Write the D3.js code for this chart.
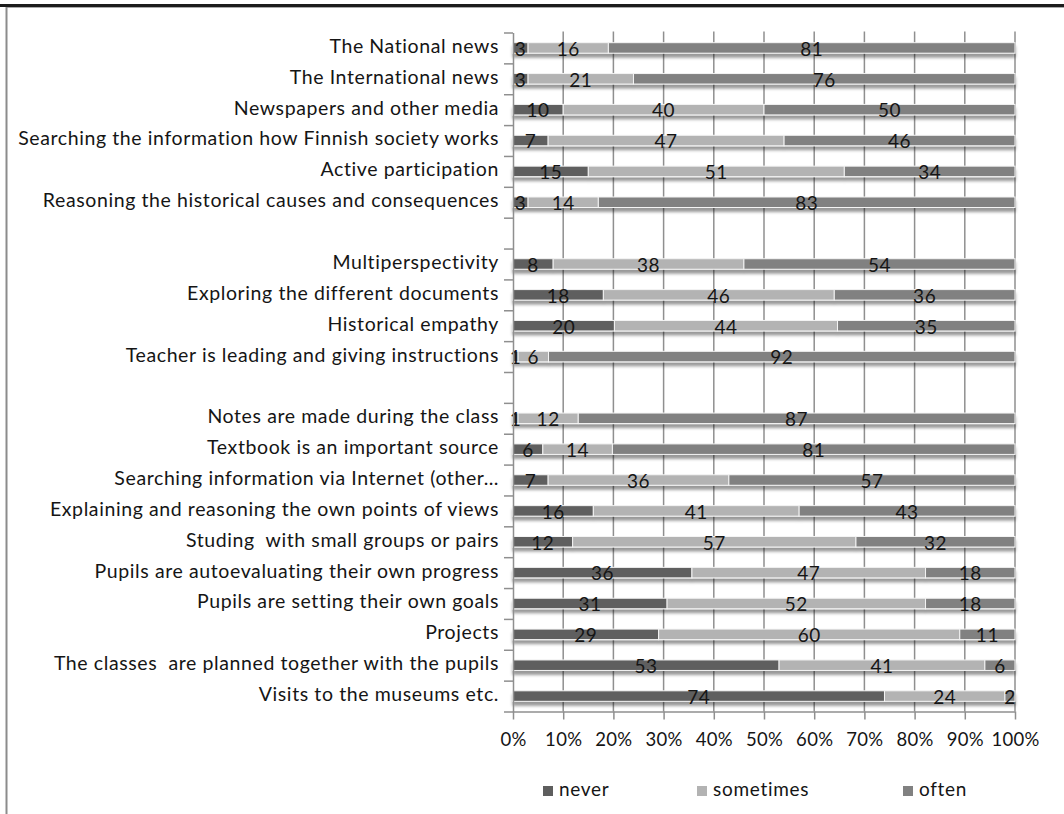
<!DOCTYPE html>
<html>
<head>
<meta charset="utf-8">
<script src="https://cdn.jsdelivr.net/npm/d3@7"></script>
<style>
    body { margin: 0; background: #fff; }
    text { font-family: Lato, "Liberation Sans", sans-serif; fill: #151515; white-space: pre; }
</style>
</head>
<body>
<script>
const categories = [
    'The National news',
    'The International news',
    'Newspapers and other media',
    'Searching the information how Finnish society works',
    'Active participation',
    'Reasoning the historical causes and consequences',
    '',
    'Multiperspectivity',
    'Exploring the different documents',
    'Historical empathy',
    'Teacher is leading and giving instructions',
    '',
    'Notes are made during the class',
    'Textbook is an important source',
    'Searching information via Internet (other…',
    'Explaining and reasoning the own points of views',
    'Studing  with small groups or pairs',
    'Pupils are autoevaluating their own progress',
    'Pupils are setting their own goals',
    'Projects',
    'The classes  are planned together with the pupils',
    'Visits to the museums etc.'
]
const never     = [3, 3, 10, 7, 15, 3, null, 8, 18, 20, 1, null, 1, 6, 7, 16, 12, 36, 31, 29, 53, 74]
const sometimes = [16, 21, 40, 47, 51, 14, null, 38, 46, 44, 6, null, 12, 14, 36, 41, 57, 47, 52, 60, 41, 24]
const often     = [81, 76, 50, 46, 34, 83, null, 54, 36, 35, 92, null, 87, 81, 57, 43, 32, 18, 18, 11, 6, 2]
const seriesNames = ['never', 'sometimes', 'often']
const xTicks = [0, 10, 20, 30, 40, 50, 60, 70, 80, 90, 100]

const dimensions = { width: 1064, height: 814 }
const colors = { never: '#5e5e5e', sometimes: '#b3b3b3', often: '#818181' }
const plot = { left: 513, right: 1015, top: 32.5, bottom: 711.5 }

const svg = d3.select('body').append('svg')
    .attr('width', dimensions.width)
    .attr('height', dimensions.height)

// frame: thick top rule and grey left edge
svg.append('rect').attr('x', 0).attr('y', 4).attr('width', dimensions.width).attr('height', 3).attr('fill', '#1c1c1c')
svg.append('line').attr('x1', 6).attr('x2', dimensions.width).attr('y1', 7.5).attr('y2', 7.5)
    .attr('stroke', '#aaa').attr('stroke-width', 1)
svg.append('line').attr('x1', 6.5).attr('x2', 6.5).attr('y1', 7).attr('y2', dimensions.height)
    .attr('stroke', '#8c8c8c').attr('stroke-width', 2)

const defs = svg.append('defs')
const shadow = defs.append('filter').attr('id', 'shadow')
    .attr('x', '-5%').attr('y', '-50%').attr('width', '110%').attr('height', '250%')
shadow.append('feDropShadow')
    .attr('dx', 0).attr('dy', 4).attr('stdDeviation', 1.8)
    .attr('flood-color', '#000').attr('flood-opacity', 0.4)

const rows = categories.map(function (c, i) {
    return { i: i, label: c, never: never[i], sometimes: sometimes[i], often: often[i] }
})
const filled = rows.filter(function (d) { return d.never !== null })

const x = d3.scaleLinear().domain([0, 100]).range([plot.left, plot.right])
const y = d3.scaleBand()
    .domain(d3.range(categories.length))
    .range([plot.top, plot.bottom])
    .paddingInner(0.66)
    .paddingOuter(0.33)
const yEdge = d3.scaleLinear().domain([0, categories.length]).range([plot.top, plot.bottom])

// vertical gridlines
svg.append('g')
    .selectAll('line')
    .data(xTicks.slice(1))
    .enter()
    .append('line')
    .attr('x1', function (d) { return x(d) })
    .attr('x2', function (d) { return x(d) })
    .attr('y1', plot.top - 1)
    .attr('y2', plot.bottom)
    .attr('stroke', '#8f8f8f')
    .attr('stroke-width', 1.5)

// stacked to 100%
const stack = d3.stack().keys(seriesNames).offset(d3.stackOffsetExpand)
const layers = stack(filled)

const barG = svg.append('g')
filled.forEach(function (row, r) {
    const g = barG.append('g').attr('filter', 'url(#shadow)')
    layers.forEach(function (layer) {
        const seg = layer[r]
        g.append('rect')
            .attr('x', x(seg[0] * 100))
            .attr('y', y(row.i))
            .attr('width', x(seg[1] * 100) - x(seg[0] * 100))
            .attr('height', y.bandwidth())
            .attr('fill', colors[layer.key])
            .attr('stroke', '#f4f4f4')
            .attr('stroke-width', 1)
    })
})

// value labels
layers.forEach(function (layer) {
    svg.append('g')
        .selectAll('text')
        .data(layer)
        .enter()
        .append('text')
        .attr('x', function (d) { return x((d[0] + d[1]) / 2 * 100) })
        .attr('y', function (d) { return y(d.data.i) + y.bandwidth() / 2 + 3 })
        .attr('text-anchor', 'middle')
        .attr('dominant-baseline', 'middle')
        .style('font-size', '19px')
        .style('letter-spacing', '0.5px')
        .text(function (d) { return d.data[layer.key] })
})

// y axis with ticks at row boundaries
const yAxis = svg.append('g')
    .attr('transform', 'translate(' + plot.left + ',0)')
    .call(d3.axisLeft(yEdge).tickValues(d3.range(categories.length + 1)).tickFormat('').tickSize(9).tickSizeOuter(0))
yAxis.selectAll('line, path').attr('stroke', '#8f8f8f').attr('stroke-width', 1.5)

svg.append('g')
    .selectAll('text')
    .data(rows)
    .enter()
    .append('text')
    .attr('x', 499)
    .attr('y', function (d) { return y(d.i) + y.bandwidth() / 2 })
    .attr('text-anchor', 'end')
    .attr('dominant-baseline', 'middle')
    .style('font-size', '19.5px')
    .style('letter-spacing', '0.6px')
    .text(function (d) { return d.label })

// x axis
const xAxis = svg.append('g')
    .attr('transform', 'translate(0,' + plot.bottom + ')')
    .call(d3.axisBottom(x).tickValues(xTicks).tickFormat(function (d) { return d + '%' }).tickSize(8).tickSizeOuter(0).tickPadding(13))
xAxis.selectAll('line, path').attr('stroke', '#8f8f8f').attr('stroke-width', 1.5)
xAxis.selectAll('text')
    .attr('fill', '#151515')
    .style('font-size', '18.5px')
    .style('letter-spacing', '0.3px')

// legend
const legendX = [543, 697, 903]
const legend = svg.append('g')
    .selectAll('g')
    .data(seriesNames)
    .enter()
    .append('g')
    .attr('transform', function (d, i) { return 'translate(' + legendX[i] + ',786)' })
legend.append('rect')
    .attr('width', 10)
    .attr('height', 10)
    .attr('fill', function (d) { return colors[d] })
legend.append('text')
    .attr('x', 16)
    .attr('y', 5)
    .attr('dominant-baseline', 'middle')
    .style('font-size', '19px')
    .style('letter-spacing', '0.7px')
    .text(function (d) { return d })
</script>
</body>
</html>
